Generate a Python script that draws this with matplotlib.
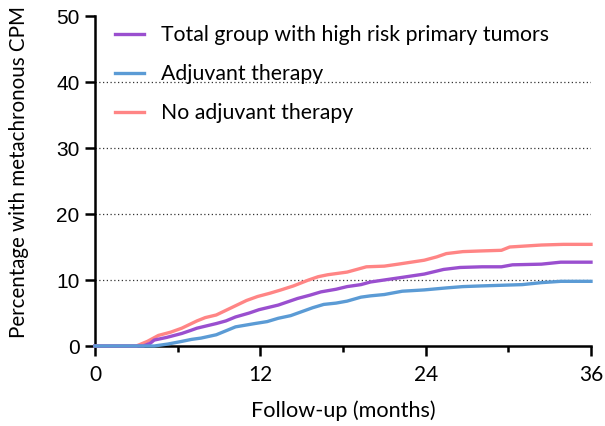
import matplotlib
matplotlib.use("Agg")
import matplotlib.pyplot as plt
from matplotlib.ticker import MultipleLocator

plt.rcParams['font.family'] = ['Lato', 'DejaVu Sans']

months_total = [0, 3.5, 4.0, 4.3, 5.2, 6.3, 7.0, 7.4, 8.8, 9.5, 10.2, 11.2, 11.9, 13.3, 14.7, 15.6, 16.4, 17.5, 18.3, 19.3, 20.0, 22.3, 23.9, 24.5, 25.3, 26.5, 28.1, 29.5, 30.3, 32.4, 33.8, 36]
pct_total = [0, 0.0, 0.4, 0.9, 1.3, 1.9, 2.4, 2.7, 3.4, 3.8, 4.4, 5.0, 5.5, 6.2, 7.2, 7.7, 8.2, 8.6, 9.0, 9.3, 9.7, 10.4, 10.9, 11.2, 11.6, 11.9, 12.0, 12.0, 12.3, 12.4, 12.7, 12.7]

months_adj = [0, 4.3, 5.3, 6.3, 7.0, 7.7, 8.8, 9.5, 10.2, 11.6, 12.5, 13.3, 14.2, 15.0, 15.8, 16.6, 17.5, 18.3, 19.3, 20.0, 21.0, 22.3, 23.9, 25.5, 26.7, 28.0, 29.5, 31.0, 32.4, 33.8, 36]
pct_adj = [0, 0.0, 0.3, 0.7, 1.0, 1.2, 1.7, 2.3, 2.9, 3.4, 3.7, 4.2, 4.6, 5.2, 5.8, 6.3, 6.5, 6.8, 7.4, 7.6, 7.8, 8.3, 8.5, 8.8, 9.0, 9.1, 9.2, 9.3, 9.6, 9.8, 9.8]

months_no = [0, 3.0, 3.8, 4.6, 5.5, 6.3, 7.4, 8.0, 8.8, 9.9, 11.0, 11.8, 12.7, 13.5, 14.4, 15.5, 16.2, 16.9, 18.3, 19.0, 19.7, 21.0, 22.0, 23.9, 24.8, 25.5, 26.7, 28.0, 29.5, 30.1, 32.4, 34.0, 36]
pct_no = [0, 0.0, 0.7, 1.6, 2.1, 2.7, 3.8, 4.3, 4.7, 5.8, 6.9, 7.5, 8.0, 8.5, 9.1, 10.0, 10.5, 10.8, 11.2, 11.6, 12.0, 12.1, 12.4, 13.0, 13.5, 14.0, 14.3, 14.4, 14.5, 15.0, 15.3, 15.4, 15.4]

labels = ["Total group with high risk primary tumors", "Adjuvant therapy", "No adjuvant therapy"]
colors = ["#9A4FCF", "#5B9BD5", "#FF8585"]

fig = plt.figure(figsize=(6.05, 4.26), dpi=100)
ax = fig.add_axes([95 / 605, 80 / 426, 496 / 605, 330 / 426])

for y in [10, 20, 30, 40]:
    ax.axhline(y, color="#333333", linestyle=(0, (1, 2)), linewidth=0.9, zorder=1)

ax.plot(months_no, pct_no, color=colors[2], lw=2.4, label=labels[2], zorder=3, clip_on=False)
ax.plot(months_total, pct_total, color=colors[0], lw=2.4, label=labels[0], zorder=4, clip_on=False)
ax.plot(months_adj, pct_adj, color=colors[1], lw=2.4, label=labels[1], zorder=5, clip_on=False)

ax.set_xlim(0, 36)
ax.set_ylim(0, 50)
ax.set_xticks([0, 12, 24, 36])
ax.xaxis.set_minor_locator(MultipleLocator(6))
ax.set_yticks([0, 10, 20, 30, 40, 50])
for s in ["top", "right"]:
    ax.spines[s].set_visible(False)
for s in ["left", "bottom"]:
    ax.spines[s].set_linewidth(1.8)
ax.tick_params(axis="both", which="major", length=7, width=1.8, direction="out")
ax.tick_params(axis="x", which="minor", length=4, width=1.8)
ax.tick_params(axis="x", pad=7, labelsize=15)
ax.tick_params(axis="y", pad=4, labelsize=15)
for t in ax.get_yticklabels():
    t.set_family(["Liberation Sans", "DejaVu Sans"])
ax.set_xlabel("Follow-up (months)", fontsize=15.6)
ax.xaxis.set_label_coords(0.5, -54 / 330)
ax.set_ylabel("Percentage with metachronous CPM", fontsize=14.8)
ax.yaxis.set_label_coords(-66 / 496, 0.527)

handles, labs = ax.get_legend_handles_labels()
order = [labs.index(l) for l in labels]
ax.legend([handles[i] for i in order], [labs[i] for i in order], loc="upper left",
          bbox_to_anchor=(0.04, 0.972), frameon=False, fontsize=15.3, handlelength=1.35,
          handletextpad=0.8, labelspacing=0.9, borderpad=0, borderaxespad=0)

fig.savefig("out.png", dpi=100)
